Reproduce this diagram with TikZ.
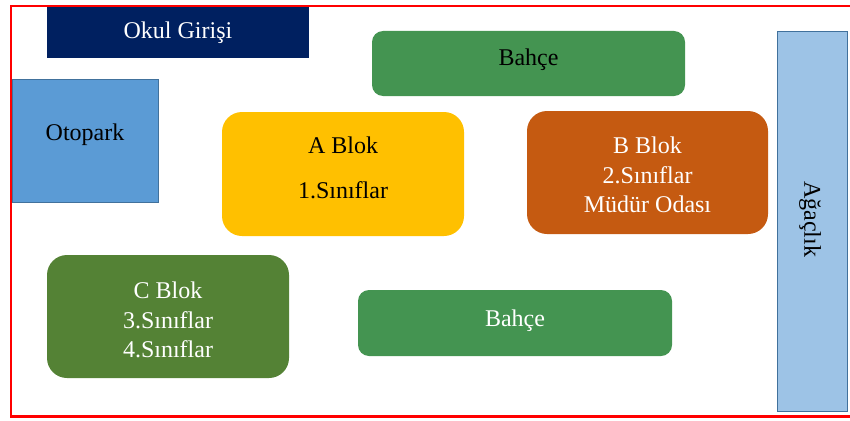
\documentclass[tikz,border=0pt]{standalone}
\usepackage{fontspec}
\setmainfont{Liberation Serif}
\definecolor{navy}{HTML}{002060}
\definecolor{otoblue}{HTML}{5B9BD5}
\definecolor{edgeblue}{HTML}{41719C}
\definecolor{lightblue}{HTML}{9DC3E6}
\definecolor{garden}{HTML}{449451}
\definecolor{ayellow}{HTML}{FFC000}
\definecolor{borange}{HTML}{C55A11}
\definecolor{cgreen}{HTML}{548235}
\definecolor{frame}{HTML}{FF0000}
\begin{document}
\begin{tikzpicture}[x=1pt,y=-1pt,
  box/.style={rectangle,inner sep=0pt,outer sep=0pt,draw=none},
  lbl/.style={inner sep=0pt,align=center,font=\fontsize{24}{29.5}\selectfont},
  block/.style={box,rounded corners=20pt},
  garden/.style={box,rounded corners=11pt,fill=garden}]
\useasboundingbox (0,0) rectangle (850,420);
% red frame
\coordinate (fTL) at (11,6);
\coordinate (fTR) at (870,6);
\coordinate (fBL) at (11,416.5);
\coordinate (fBR) at (870,416.5);
\draw[frame,line width=2.6pt] (fTR) -- (fTL) -- (fBL) -- (fBR);
% boxes
\node[box,fill=navy,minimum width=262pt,minimum height=51pt] (okul) at (178,32.5) {};
\node[lbl,text=white] (okult) at (178,32.5) {Okul Girişi};
\node[box,fill=otoblue,draw=edgeblue,line width=0.8pt,minimum width=146pt,minimum height=123pt] (oto) at (85,140.5) {};
\node[lbl] (otot) at (85,134.5) {Otopark};
\node[garden,minimum width=313pt,minimum height=65pt] (bahce1) at (528.5,63.5) {};
\node[lbl] (bahce1t) at (528.5,59.5) {Bahçe};
\node[block,fill=ayellow,minimum width=242pt,minimum height=124pt] (ablok) at (343,174) {};
\node[lbl] (ablok1) at (343,145.5) {A Blok};
\node[lbl] (ablok2) at (343,190.5) {1.Sınıflar};
\node[block,fill=borange,minimum width=241pt,minimum height=123pt] (bblok) at (647.5,172.5) {};
\node[lbl,text=white] (bblokt) at (647.5,175) {B Blok\\2.Sınıflar\\Müdür Odası};
\node[box,fill=lightblue,draw=edgeblue,line width=0.8pt,minimum width=70pt,minimum height=380pt] (agac) at (812,221.5) {};
\node[lbl,rotate=-90] (agact) at (810,219) {Ağaçlık};
\node[block,fill=cgreen,minimum width=242pt,minimum height=123pt] (cblok) at (168,316.5) {};
\node[lbl,text=white] (cblokt) at (168,320) {C Blok\\3.Sınıflar\\4.Sınıflar};
\node[garden,minimum width=314pt,minimum height=66pt] (bahce2) at (515,323) {};
\node[lbl,text=white] (bahce2t) at (515,320.5) {Bahçe};
\end{tikzpicture}
\end{document}
